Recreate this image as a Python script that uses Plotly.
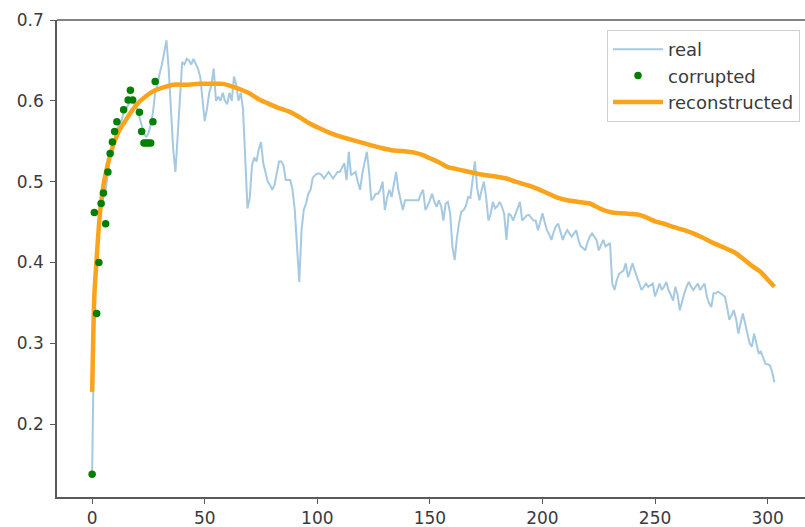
import plotly.graph_objects as go

# Measured signal, one value per step 0..303
real = [
    0.14, 0.34, 0.40, 0.45, 0.47, 0.48, 0.49, 0.51, 0.53, 0.54,
    0.555, 0.565, 0.57, 0.575, 0.585, 0.59, 0.595, 0.60, 0.60, 0.595,
    0.59, 0.58, 0.57, 0.56, 0.555, 0.56, 0.57, 0.585, 0.61, 0.62,
    0.634, 0.645, 0.66, 0.675, 0.64, 0.59, 0.54, 0.512, 0.56, 0.61,
    0.648, 0.645, 0.652, 0.65, 0.645, 0.652, 0.645, 0.64, 0.63, 0.60,
    0.575, 0.59, 0.61, 0.62, 0.64, 0.60, 0.605, 0.60, 0.61, 0.60,
    0.596, 0.61, 0.60, 0.63, 0.62, 0.60, 0.61, 0.59, 0.53, 0.467,
    0.48, 0.52, 0.53, 0.525, 0.54, 0.549, 0.523, 0.51, 0.50, 0.496,
    0.49, 0.496, 0.51, 0.525, 0.525, 0.52, 0.502, 0.502, 0.502, 0.49,
    0.465, 0.42, 0.376, 0.44, 0.465, 0.473, 0.485, 0.49, 0.505, 0.508,
    0.51, 0.51, 0.508, 0.504, 0.508, 0.512, 0.508, 0.504, 0.508, 0.512,
    0.512, 0.518, 0.523, 0.502, 0.537, 0.508, 0.51, 0.512, 0.50, 0.49,
    0.51, 0.525, 0.537, 0.512, 0.477, 0.48, 0.485, 0.485, 0.49, 0.50,
    0.465, 0.48, 0.49, 0.481, 0.495, 0.512, 0.49, 0.475, 0.465, 0.477,
    0.477, 0.477, 0.477, 0.477, 0.477, 0.477, 0.485, 0.49, 0.465, 0.47,
    0.477, 0.485, 0.475, 0.469, 0.477, 0.47, 0.452, 0.473, 0.475, 0.461,
    0.42, 0.403, 0.43, 0.45, 0.463, 0.465, 0.47, 0.481, 0.48, 0.50,
    0.525, 0.492, 0.477, 0.49, 0.50, 0.48, 0.452, 0.46, 0.475, 0.467,
    0.47, 0.475, 0.469, 0.46, 0.428, 0.461, 0.458, 0.452, 0.46, 0.468,
    0.475, 0.452, 0.455, 0.458, 0.459, 0.455, 0.452, 0.452, 0.44, 0.45,
    0.461, 0.45, 0.44, 0.435, 0.428, 0.438, 0.445, 0.448, 0.438, 0.428,
    0.435, 0.44, 0.436, 0.432, 0.436, 0.44, 0.428, 0.42, 0.418, 0.415,
    0.425, 0.432, 0.436, 0.432, 0.428, 0.415, 0.422, 0.428, 0.42, 0.422,
    0.424, 0.374, 0.366, 0.378, 0.386, 0.388, 0.39, 0.399, 0.382, 0.39,
    0.399, 0.39, 0.382, 0.374, 0.366, 0.37, 0.374, 0.37, 0.372, 0.374,
    0.358, 0.366, 0.374, 0.366, 0.37, 0.376, 0.366, 0.36, 0.353, 0.37,
    0.36, 0.341, 0.352, 0.362, 0.37, 0.376, 0.37, 0.366, 0.37, 0.374,
    0.366, 0.37, 0.374, 0.358, 0.35, 0.345, 0.362, 0.362, 0.364, 0.362,
    0.36, 0.358, 0.345, 0.329, 0.335, 0.341, 0.33, 0.312, 0.325, 0.337,
    0.325, 0.312, 0.30, 0.296, 0.312, 0.30, 0.288, 0.29, 0.282, 0.275,
    0.274, 0.273, 0.265, 0.252,
]
real_x = list(range(len(real)))

# Noisy observations available for the first steps
corrupted_x = [0, 1, 2, 3, 4, 5, 6, 7, 8, 9, 10, 11, 14, 16, 17, 18,
               21, 22, 23, 24, 25, 26, 27, 28]
corrupted_y = [0.138, 0.462, 0.337, 0.400, 0.473, 0.486, 0.448, 0.512,
               0.535, 0.549, 0.562, 0.574, 0.589, 0.601, 0.613, 0.601,
               0.586, 0.562, 0.548, 0.548, 0.548, 0.548, 0.574, 0.624]

# Model reconstruction of the full signal
recon_x = [0, 1, 2, 3, 4, 5, 6, 8, 10, 12, 14, 17, 20, 24, 28, 32, 36, 42,
           48, 54, 58, 62, 66, 70, 74, 78, 83, 88, 92, 96, 101, 105, 110,
           115, 119, 124, 128, 133, 137, 143, 147, 150, 154, 158, 163, 169,
           175, 180, 184, 188, 193, 197, 202, 206, 211, 216, 221, 224, 227,
           231, 235, 240, 243, 246, 250, 254, 258, 263, 267, 271, 276, 281,
           285, 289, 293, 297, 300, 303]
recon_y = [0.24, 0.36, 0.405, 0.445, 0.475, 0.495, 0.51, 0.533, 0.55, 0.563,
           0.572, 0.585, 0.596, 0.606, 0.613, 0.617, 0.62, 0.62, 0.621,
           0.621, 0.621, 0.618, 0.614, 0.609, 0.602, 0.597, 0.591, 0.586,
           0.580, 0.573, 0.566, 0.561, 0.556, 0.552, 0.549, 0.545, 0.542,
           0.539, 0.538, 0.536, 0.533, 0.529, 0.524, 0.518, 0.515, 0.511,
           0.508, 0.506, 0.504, 0.500, 0.496, 0.492, 0.486, 0.481, 0.477,
           0.475, 0.473, 0.469, 0.465, 0.462, 0.461, 0.460, 0.459, 0.456,
           0.451, 0.448, 0.444, 0.440, 0.436, 0.431, 0.424, 0.418, 0.413,
           0.405, 0.396, 0.388, 0.379, 0.370]

x_ticks = [0, 50, 100, 150, 200, 250, 300]
y_ticks = [0.2, 0.3, 0.4, 0.5, 0.6, 0.7]

FONT = "DejaVu Sans"
AXIS_COLOR = "#5a5a5a"
TEXT_COLOR = "#3a3a3a"

fig = go.Figure()
fig.add_trace(go.Scatter(
    x=real_x, y=real, mode="lines", name="real", legendrank=1,
    line=dict(color="rgba(31,119,180,0.4)", width=2),
))
fig.add_trace(go.Scatter(
    x=recon_x, y=recon_y, mode="lines", name="reconstructed", legendrank=3,
    line=dict(color="rgb(252,163,28)", width=4.5, shape="spline", smoothing=0.6),
))
fig.add_trace(go.Scatter(
    x=corrupted_x, y=corrupted_y, mode="markers", name="corrupted", legendrank=2,
    marker=dict(color="rgb(0,128,0)", size=7.5),
))

fig.update_layout(
    width=805, height=527,
    margin=dict(l=57, r=0, t=20, b=30),
    paper_bgcolor="white", plot_bgcolor="white",
    font=dict(family=FONT, size=17, color=TEXT_COLOR),
    showlegend=True,
    legend=dict(
        x=0.9933, y=0.979, xanchor="right", yanchor="top",
        bgcolor="rgba(255,255,255,0.8)", bordercolor="#d0d0d0", borderwidth=1,
        font=dict(family=FONT, size=18, color=TEXT_COLOR),
        itemwidth=50, tracegroupgap=0,
    ),
    shapes=[dict(type="line", xref="paper", yref="paper", x0=0, x1=1, y0=1, y1=1,
                 line=dict(color=AXIS_COLOR, width=1.5))],
)
fig.update_xaxes(
    range=[-15.6, 316.6], tickvals=x_ticks, ticks="outside", ticklen=5,
    tickwidth=1.3, tickcolor=AXIS_COLOR, showline=True, linecolor=AXIS_COLOR,
    linewidth=1.5, showgrid=False, zeroline=False, mirror=False,
)
fig.update_yaxes(
    range=[0.110, 0.700], tickvals=y_ticks, tickformat=".1f", ticks="outside",
    ticklen=5, tickwidth=1.3, tickcolor=AXIS_COLOR, showline=True,
    linecolor=AXIS_COLOR, linewidth=1.5, showgrid=False, zeroline=False,
    mirror=False, ticklabelstandoff=3,
)

fig.write_html("out.html", config={"displayModeBar": False})
